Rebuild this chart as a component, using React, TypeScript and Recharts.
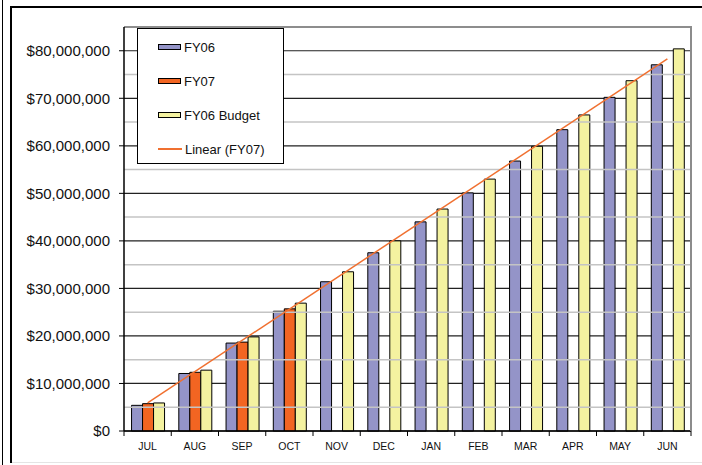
import React from 'react';
import { ComposedChart, Bar, Line, XAxis, YAxis, CartesianGrid, ReferenceLine } from 'recharts';

const months = ['JUL', 'AUG', 'SEP', 'OCT', 'NOV', 'DEC', 'JAN', 'FEB', 'MAR', 'APR', 'MAY', 'JUN'];
const fy06 = [5400000, 12100000, 18500000, 25200000, 31400000, 37500000, 44000000, 50100000, 56800000, 63400000, 70200000, 77050000];
const fy07 = [5750000, 12350000, 18700000, 25700000, null, null, null, null, null, null, null, null];
const fy06Budget = [5900000, 12800000, 19800000, 26900000, 33500000, 40000000, 46700000, 53000000, 59900000, 66500000, 73700000, 80400000];
// Linear (FY07) trendline endpoints (JUL and JUN)
const trendline = [5900000, null, null, null, null, null, null, null, null, null, null, 78300000];
const yTicks = [0, 10000000, 20000000, 30000000, 40000000, 50000000, 60000000, 70000000, 80000000];
const yMinorLines = [5000000, 15000000, 25000000, 35000000, 45000000, 55000000, 65000000, 75000000];
const yMax = 85000000;

const series = [
  { name: 'FY06', color: '#9494C8', kind: 'bar' },
  { name: 'FY07', color: '#F26522', kind: 'bar' },
  { name: 'FY06 Budget', color: '#F4F2A0', kind: 'bar' },
  { name: 'Linear (FY07)', color: '#F07030', kind: 'line' },
];

const data = months.map((m, i) => ({
  month: m,
  fy06: fy06[i],
  fy07: fy07[i],
  budget: fy06Budget[i],
  trend: trendline[i],
}));

const W = 702;
const H = 465;
const PLOT_LEFT = 124;
const PLOT_RIGHT = 691;
const PLOT_TOP = 27;
const PLOT_BOTTOM = 431;
const HALF_BAND = (PLOT_RIGHT - PLOT_LEFT) / months.length / 2;
const FONT = '"Liberation Sans", Arial, sans-serif';

const fmt = (v: number) => '$' + v.toLocaleString('en-US');

const XTick = (props: any) => {
  const { x, y, payload, index } = props;
  return (
    <g>
      <line x1={x - HALF_BAND} x2={x - HALF_BAND} y1={y} y2={y + 5} stroke="#000" strokeWidth={1} />
      {index === months.length - 1 && (
        <line x1={x + HALF_BAND} x2={x + HALF_BAND} y1={y} y2={y + 5} stroke="#000" strokeWidth={1} />
      )}
      <text x={x} y={y + 19} textAnchor="middle" fontSize={10.5} fontFamily={FONT} fill="#111">
        {payload.value}
      </text>
    </g>
  );
};

export default function App() {
  return (
    <div style={{ position: 'absolute', left: 0, top: 0, width: W, height: H, background: '#fff', overflow: 'hidden' }}>
      {/* frame */}
      <div style={{ position: 'absolute', left: 2, top: 0, width: 1, height: H, background: '#000' }} />
      <div style={{ position: 'absolute', left: 10, top: 6, width: W - 10, height: H - 8, borderTop: '2px solid #000', borderLeft: '2px solid #000', boxSizing: 'border-box' }} />
      <div style={{ position: 'absolute', left: 12, top: 462, width: W - 12, height: 1, background: '#e4e4e4' }} />
      <div style={{ position: 'absolute', left: 0, top: 0 }}>
        <ComposedChart
          width={W}
          height={H}
          data={data}
          margin={{ top: PLOT_TOP, right: W - PLOT_RIGHT, bottom: 4, left: 0 }}
          barCategoryGap="16%"
          barGap={0}
        >
          <YAxis
            width={PLOT_LEFT}
            domain={[0, yMax]}
            ticks={yTicks}
            interval={0}
            tickFormatter={fmt}
            tickSize={5}
            tickMargin={9}
            axisLine={{ stroke: '#000', strokeWidth: 1.5 }}
            tickLine={{ stroke: '#000' }}
            tick={{ fontSize: 15, fontFamily: FONT, fill: '#111' }}
          />
          <XAxis
            dataKey="month"
            height={H - PLOT_BOTTOM - 4}
            interval={0}
            tickSize={0}
            tickMargin={0}
            tickLine={false}
            axisLine={{ stroke: '#000', strokeWidth: 1.5 }}
            tick={<XTick />}
          />
          {yMinorLines.map((v) => (
            <ReferenceLine key={v} y={v} stroke="#c4c4c4" strokeWidth={1.5} ifOverflow="visible" />
          ))}
          <ReferenceLine y={yMax} stroke="#8c8c8c" strokeWidth={1.5} />
          <CartesianGrid vertical={false} stroke="#222" strokeWidth={1.2} />
          <Bar dataKey="fy06" name="FY06" fill={series[0].color} stroke="#000" strokeWidth={1} isAnimationActive={false} />
          <Bar dataKey="fy07" name="FY07" fill={series[1].color} stroke="#000" strokeWidth={1} isAnimationActive={false} />
          <Bar dataKey="budget" name="FY06 Budget" fill={series[2].color} stroke="#000" strokeWidth={1} isAnimationActive={false} />
          <Line
            dataKey="trend"
            name="Linear (FY07)"
            stroke={series[3].color}
            strokeWidth={1.5}
            dot={false}
            connectNulls
            isAnimationActive={false}
          />
        </ComposedChart>
      </div>
      {/* right plot border */}
      <div style={{ position: 'absolute', left: PLOT_RIGHT - 1, top: PLOT_TOP - 1, width: 1.5, height: PLOT_BOTTOM - PLOT_TOP + 1, background: '#8c8c8c' }} />
      {/* legend */}
      <div
        style={{
          position: 'absolute',
          left: 137,
          top: 28,
          width: 147,
          height: 136,
          border: '1px solid #000',
          background: '#fff',
          boxSizing: 'border-box',
          fontFamily: FONT,
          fontSize: 13,
          color: '#111',
        }}
      >
        {series.map((s, i) => (
          <div key={s.name} style={{ position: 'absolute', left: 20, top: 10 + i * 34, height: 16, display: 'flex', alignItems: 'center' }}>
            {s.kind === 'bar' ? (
              <div style={{ width: 23, height: 6, background: s.color, border: '1px solid #000', boxSizing: 'border-box' }} />
            ) : (
              <div style={{ width: 24, height: 1.5, background: s.color }} />
            )}
            <span style={{ marginLeft: 3, whiteSpace: 'nowrap' }}>{s.name}</span>
          </div>
        ))}
      </div>
    </div>
  );
}
